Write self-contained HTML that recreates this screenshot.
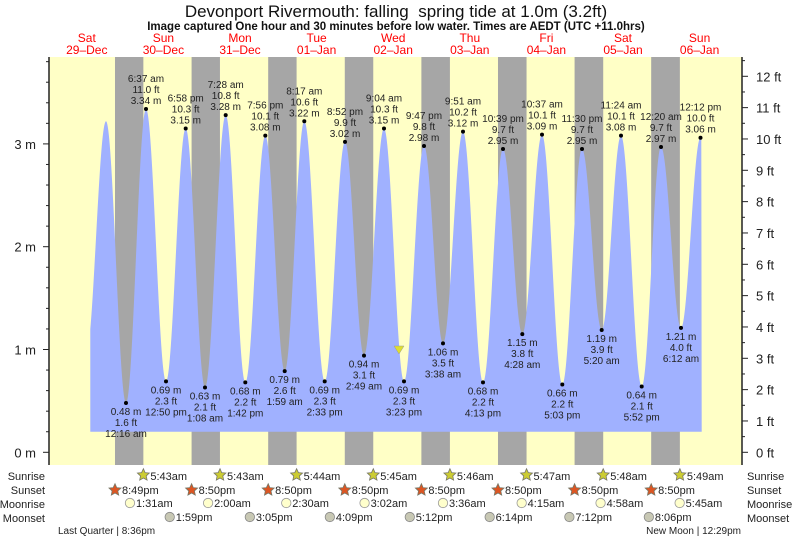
<!DOCTYPE html>
<html><head><meta charset="utf-8"><style>
body{margin:0;background:#fff;}
svg{display:block;font-family:"Liberation Sans",sans-serif;}
</style></head><body>
<svg id="s" width="793" height="539" xmlns="http://www.w3.org/2000/svg"></svg>
<script>
const S=document.getElementById('s');
let h='';
const X0=125.1-76.6, D=76.6;
const tx=(d,hr)=>X0+D*(d+hr/24);
const ym=m=>452.3-102.8*m;
h+=`<rect x="49" y="57" width="693" height="408" fill="#ffffc6"/>`;
const sunrise=[5.72,5.72,5.73,5.75,5.77,5.78,5.8,5.82];
for(let i=0;i<8;i++){const a=tx(i,20.83),b=tx(i+1,sunrise[i]);h+=`<rect x="${a}" y="57" width="${b-a}" height="408" fill="#a6a6a6"/>`;}
const ex=[[86,0.95],[106,3.22],[126,0.48,'L','12:16 am','1.6 ft'],[146,3.34,'H','6:37 am','11.0 ft'],[166,0.69,'L','12:50 pm','2.3 ft'],[185.7,3.15,'H','6:58 pm','10.3 ft'],[205,0.63,'L','1:08 am','2.1 ft'],[225.7,3.28,'H','7:28 am','10.8 ft'],[245.3,0.68,'L','1:42 pm','2.2 ft'],[265.3,3.08,'H','7:56 pm','10.1 ft'],[284.7,0.79,'L','1:59 am','2.6 ft'],[304.3,3.22,'H','8:17 am','10.6 ft'],[324.7,0.69,'L','2:33 pm','2.3 ft'],[345,3.02,'H','8:52 pm','9.9 ft'],[364,0.94,'L','2:49 am','3.1 ft'],[384,3.15,'H','9:04 am','10.3 ft'],[404,0.69,'L','3:23 pm','2.3 ft'],[424,2.98,'H','9:47 pm','9.8 ft'],[443,1.06,'L','3:38 am','3.5 ft'],[463,3.12,'H','9:51 am','10.2 ft'],[483,0.68,'L','4:13 pm','2.2 ft'],[503,2.95,'H','10:39 pm','9.7 ft'],[522.3,1.15,'L','4:28 am','3.8 ft'],[542,3.09,'H','10:37 am','10.1 ft'],[562.3,0.66,'L','5:03 pm','2.2 ft'],[582,2.95,'H','11:30 pm','9.7 ft'],[601.7,1.19,'L','5:20 am','3.9 ft'],[621,3.08,'H','11:24 am','10.1 ft'],[641.7,0.64,'L','5:52 pm','2.1 ft'],[661,2.97,'H','12:20 am','9.7 ft'],[681,1.21,'L','6:12 am','4.0 ft'],[700.5,3.06,'H','12:12 pm','10.0 ft'],[720,0.9]];
function lvl(x){for(let i=0;i<ex.length-1;i++){const a=ex[i],b=ex[i+1];if(x>=a[0]&&x<=b[0]){const t=(x-a[0])/(b[0]-a[0]);return a[1]+(b[1]-a[1])*(1-Math.cos(Math.PI*t))/2;}}return 1;}
let p=`M90.3,431.7`;
for(let x=90.3;x<=701.7;x+=0.5)p+=` L${x.toFixed(1)},${ym(lvl(x)).toFixed(1)}`;
p+=` L701.7,431.7 Z`;
h+=`<path d="${p}" fill="#a0b1ff"/>`;
for(const e of ex){if(!e[2])continue;const x=e[0],y=ym(e[1]);h+=`<circle cx="${x}" cy="${y}" r="2" fill="#000"/>`;
const m=e[1].toFixed(2)+' m';let ls;
if(e[2]=='H')ls=[[e[3],y-27],[e[4],y-16],[m,y-5]];else ls=[[m,y+12],[e[4],y+23],[e[3],y+34]];
for(const l of ls)h+=`<text x="${x}" y="${l[1]}" font-size="10" text-anchor="middle" fill="#222">${l[0]}</text>`;}
h+=`<path d="M394,346 L404,346 L399,354 Z" fill="#dede30" stroke="#999" stroke-width="0.5"/>`;
h+=`<line x1="49" y1="57" x2="49" y2="465" stroke="#222" stroke-width="1.5"/><line x1="742" y1="57" x2="742" y2="465" stroke="#222" stroke-width="1.5"/>`;
for(let k=-1;k<=19;k++){const y=ym(k*0.2);if(y<57||y>465)continue;const maj=k%5==0;h+=`<line x1="${maj?43:46}" y1="${y}" x2="49" y2="${y}" stroke="#222"/>`;if(maj)h+=`<text x="36" y="${y+5}" font-size="13" text-anchor="end" fill="#222">${k/5} m</text>`;}
for(let k=0;k<=26;k++){const y=ym(k*0.5*0.3048);if(y<57)continue;const maj=k%2==0;h+=`<line x1="742" y1="${y}" x2="${maj?748:745}" y2="${y}" stroke="#222"/>`;if(maj)h+=`<text x="756" y="${y+5}" font-size="13" fill="#222">${k/2} ft</text>`;}
h+=`<text x="396" y="17" font-size="17" text-anchor="middle" fill="#111">Devonport Rivermouth: falling \u00a0spring tide at 1.0m (3.2ft)</text>`;
h+=`<text x="396" y="30" font-size="11.5" font-weight="bold" text-anchor="middle" fill="#111">Image captured One hour and 30 minutes before low water. Times are AEDT (UTC +11.0hrs)</text>`;
const dn=[['Sat','29-Dec'],['Sun','30-Dec'],['Mon','31-Dec'],['Tue','01-Jan'],['Wed','02-Jan'],['Thu','03-Jan'],['Fri','04-Jan'],['Sat','05-Jan'],['Sun','06-Jan']];
dn.forEach((d,i)=>{const x=tx(i,12);h+=`<text x="${x}" y="42" font-size="12" text-anchor="middle" fill="#f00">${d[0]}</text><text x="${x}" y="54" font-size="12" text-anchor="middle" fill="#f00">${d[1].replace('-','\u2013')}</text>`;});
const rows=[['Sunrise',476],['Sunset',490],['Moonrise',504],['Moonset',518]];
for(const r of rows){h+=`<text x="45" y="${r[1]+4}" font-size="11" text-anchor="end" fill="#222">${r[0]}</text><text x="747" y="${r[1]+4}" font-size="11" fill="#222">${r[0]}</text>`;}
function star(cx,cy,fill){let d='';for(let i=0;i<10;i++){const a=-Math.PI/2+i*Math.PI/5,rr=i%2?3:6.3;d+=(i?'L':'M')+(cx+rr*Math.cos(a)).toFixed(1)+','+(cy+rr*Math.sin(a)).toFixed(1);}return `<path d="${d}Z" fill="${fill}" stroke="#776" stroke-width="0.8"/>`;}
const srT=['5:43am','5:43am','5:44am','5:45am','5:46am','5:47am','5:48am','5:49am'];
srT.forEach((t,i)=>{const x=tx(i+1,sunrise[i]);h+=star(x,475,'#cccc33')+`<text x="${x+7}" y="480" font-size="11" fill="#222">${t}</text>`;});
const ssT=['8:49pm','8:50pm','8:50pm','8:50pm','8:50pm','8:50pm','8:50pm','8:50pm'];
ssT.forEach((t,i)=>{const x=tx(i,20.83);h+=star(x,490,'#dd5522')+`<text x="${x+7}" y="494" font-size="11" fill="#222">${t}</text>`;});
const mr=[[1.52,'1:31am'],[2,'2:00am'],[2.5,'2:30am'],[3.03,'3:02am'],[3.6,'3:36am'],[4.25,'4:15am'],[4.97,'4:58am'],[5.75,'5:45am']];
mr.forEach((m,i)=>{const x=tx(i+1,m[0]);h+=`<circle cx="${x}" cy="503" r="4.7" fill="#ffffcc" stroke="#999" stroke-width="0.8"/><text x="${x+6}" y="507" font-size="11" fill="#222">${m[1]}</text>`;});
const ms=[[13.98,'1:59pm'],[15.08,'3:05pm'],[16.15,'4:09pm'],[17.2,'5:12pm'],[18.23,'6:14pm'],[19.2,'7:12pm'],[20.1,'8:06pm']];
ms.forEach((m,i)=>{const x=tx(i+1,m[0]);h+=`<circle cx="${x}" cy="517" r="4.7" fill="#c8c8b4" stroke="#888" stroke-width="0.8"/><text x="${x+6}" y="521" font-size="11" fill="#222">${m[1]}</text>`;});
h+=`<text x="58" y="534" font-size="10" fill="#222">Last Quarter | 8:36pm</text><text x="741" y="534" font-size="10" text-anchor="end" fill="#222">New Moon | 12:29pm</text>`;
S.innerHTML=h;
</script>
</body></html>
